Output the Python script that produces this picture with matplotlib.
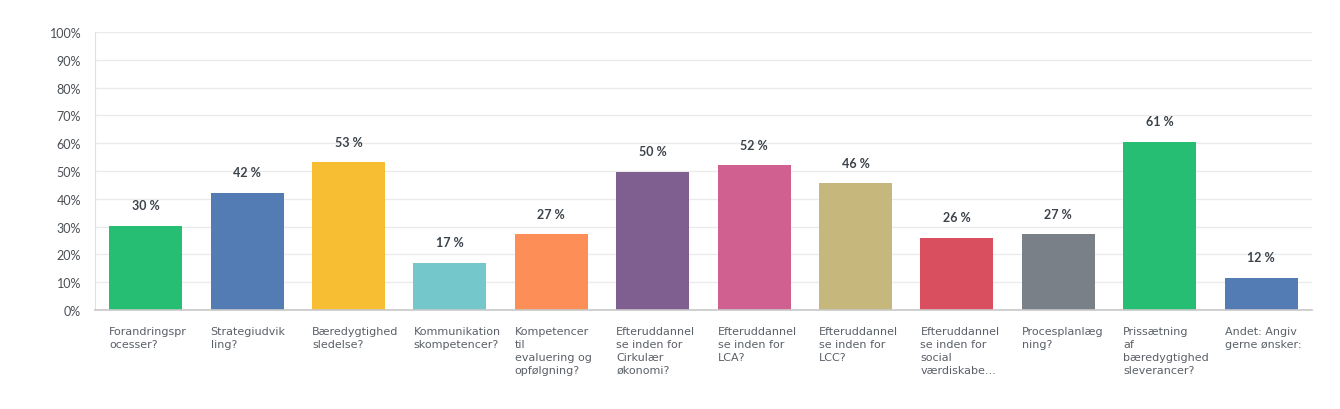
import matplotlib
matplotlib.use("Agg")
import matplotlib.pyplot as plt
import numpy as np

# =============================
# DATA
# =============================

categories = [
    "Forandringspr\nocesser?",
    "Strategiudvik\nling?",
    "Bæredygtighed\nsledelse?",
    "Kommunikation\nskompetencer?",
    "Kompetencer\ntil\nevaluering og\nopfølgning?",
    "Efteruddannel\nse inden for\nCirkulær\nøkonomi?",
    "Efteruddannel\nse inden for\nLCA?",
    "Efteruddannel\nse inden for\nLCC?",
    "Efteruddannel\nse inden for\nsocial\nværdiskabe...",
    "Procesplanlæg\nning?",
    "Prissætning\naf\nbæredygtighed\nsleverancer?",
    "Andet: Angiv\ngerne ønsker:",
]
values = [30.2, 42.1, 53.1, 16.9, 27.2, 49.8, 52.0, 45.6, 26.0, 27.2, 60.6, 11.6]
value_labels = ["30 %", "42 %", "53 %", "17 %", "27 %", "50 %", "52 %", "46 %", "26 %", "27 %", "61 %", "12 %"]
colors = ["#26be72", "#537bb4", "#f7bd33", "#74c8cc", "#fd8e57", "#7f5f8f",
          "#d0608f", "#c6b87d", "#da4f5f", "#7a8088", "#26be72", "#537bb4"]
yticks = list(range(0, 101, 10))

# =============================
# PLOT
# =============================

plt.rcParams["font.family"] = ["Lato", "DejaVu Sans"]

fig = plt.figure(figsize=(13.4, 4.1), dpi=100)
ax = fig.add_axes([0.0709, 0.2415, 0.9081, 0.678])

x = np.arange(len(categories))
bar_w = 0.72
ax.bar(x, values, width=bar_w, color=colors, zorder=2)

ax.set_xlim(-0.5, len(categories) - 0.5)
ax.set_ylim(0, 100)
ax.set_yticks(yticks)
ax.set_yticklabels([f"{t}%" for t in yticks], fontsize=9, color="#4a4f55")
ax.tick_params(axis="y", length=0, pad=10)
ax.set_xticks([])
ax.grid(axis="y", color="#ebebeb", linewidth=1, zorder=0)

for s in ["top", "right"]:
    ax.spines[s].set_visible(False)
ax.spines["left"].set_color("#e0e0e0")
ax.spines["bottom"].set_color("#c8c8c8")
ax.spines["bottom"].set_linewidth(1.2)

for i, (v, lab) in enumerate(zip(values, value_labels)):
    ax.annotate(lab, (i, v), xytext=(0, 10.5), textcoords="offset points",
                ha="center", va="bottom", fontsize=9, fontweight="bold", color="#3c434b")

for i, cat in enumerate(categories):
    ax.annotate(cat, (i - bar_w / 2, 0), xytext=(0, -11.5), textcoords="offset points",
                ha="left", va="top", fontsize=8, color="#5a6068", linespacing=1.38,
                family="DejaVu Sans", annotation_clip=False)

fig.savefig("out.png", dpi=100)
